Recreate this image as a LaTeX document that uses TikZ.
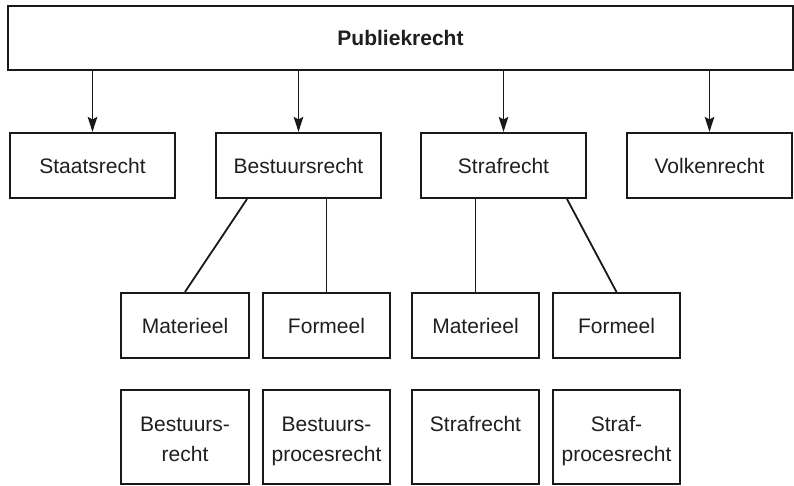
\documentclass[tikz,border=0pt]{standalone}
\usepackage{fontspec}
\setmainfont{Liberation Sans}
\usetikzlibrary{arrows.meta}
\begin{document}
\begin{tikzpicture}[x=1pt,y=-1pt,
  box/.style={draw=black!90, line width=2.1pt, rectangle, inner sep=0pt, align=center,
    font=\fontsize{21}{30}\selectfont, text=black!88},
  txt/.style={inner sep=0pt, outer sep=0pt, align=center, anchor=north,
    font=\fontsize{21}{30}\selectfont, text=black!88},
  conn/.style={draw=black!90, line width=1.8pt},
  arr/.style={conn, -{Stealth[length=15pt,width=9.5pt,inset=2.5pt]}}]
\useasboundingbox (0,0) rectangle (794,486);
\fill[white] (0,0) rectangle (794,486);
% top
\node[box, minimum width=785pt, minimum height=64pt, font=\fontsize{21}{30}\selectfont\bfseries] (top) at (400.5,38) {Publiekrecht};
% row 1
\node[box, minimum width=165pt, minimum height=65pt] (sta) at (92.5,165.5) {Staatsrecht};
\node[box, minimum width=165pt, minimum height=65pt] (bes) at (298.5,165.5) {Bestuursrecht};
\node[box, minimum width=165pt, minimum height=65pt] (str) at (503.5,165.5) {Strafrecht};
\node[box, minimum width=165pt, minimum height=65pt] (vol) at (709.5,165.5) {Volkenrecht};
% row 2
\node[box, minimum width=128pt, minimum height=65pt] (m1) at (185,325.5) {Materieel};
\node[box, minimum width=127pt, minimum height=65pt] (f1) at (326.5,325.5) {Formeel};
\node[box, minimum width=127pt, minimum height=65pt] (m2) at (475.5,325.5) {Materieel};
\node[box, minimum width=127pt, minimum height=65pt] (f2) at (616.5,325.5) {Formeel};
% row 3
\node[box, minimum width=128pt, minimum height=94pt] (b1) at (185,437) {};
\node[box, minimum width=127pt, minimum height=94pt] (b2) at (326.5,437) {};
\node[box, minimum width=127pt, minimum height=94pt] (b3) at (475.5,437) {};
\node[box, minimum width=127pt, minimum height=94pt] (b4) at (616.5,437) {};
\node[txt] (b1t) at (185,410) {\strut Bestuurs-\\\strut recht};
\node[txt] (b2t) at (326.5,410) {\strut Bestuurs-\\\strut procesrecht};
\node[txt] (b3t) at (475.5,410) {\strut Strafrecht};
\node[txt] (b4t) at (616.5,410) {\strut Straf-\\\strut procesrecht};
% arrows
\draw[arr] (sta.north |- top.south) -- (sta.north);
\draw[arr] (bes.north |- top.south) -- (bes.north);
\draw[arr] (str.north |- top.south) -- (str.north);
\draw[arr] (vol.north |- top.south) -- (vol.north);
% lines
\draw[conn] (bes.south) ++(-51.5,0) -- (m1.north);
\draw[conn] (f1.north |- bes.south) -- (f1.north);
\draw[conn] (m2.north |- str.south) -- (m2.north);
\draw[conn] (str.south) ++(63.5,0) -- (f2.north);
\end{tikzpicture}
\end{document}
